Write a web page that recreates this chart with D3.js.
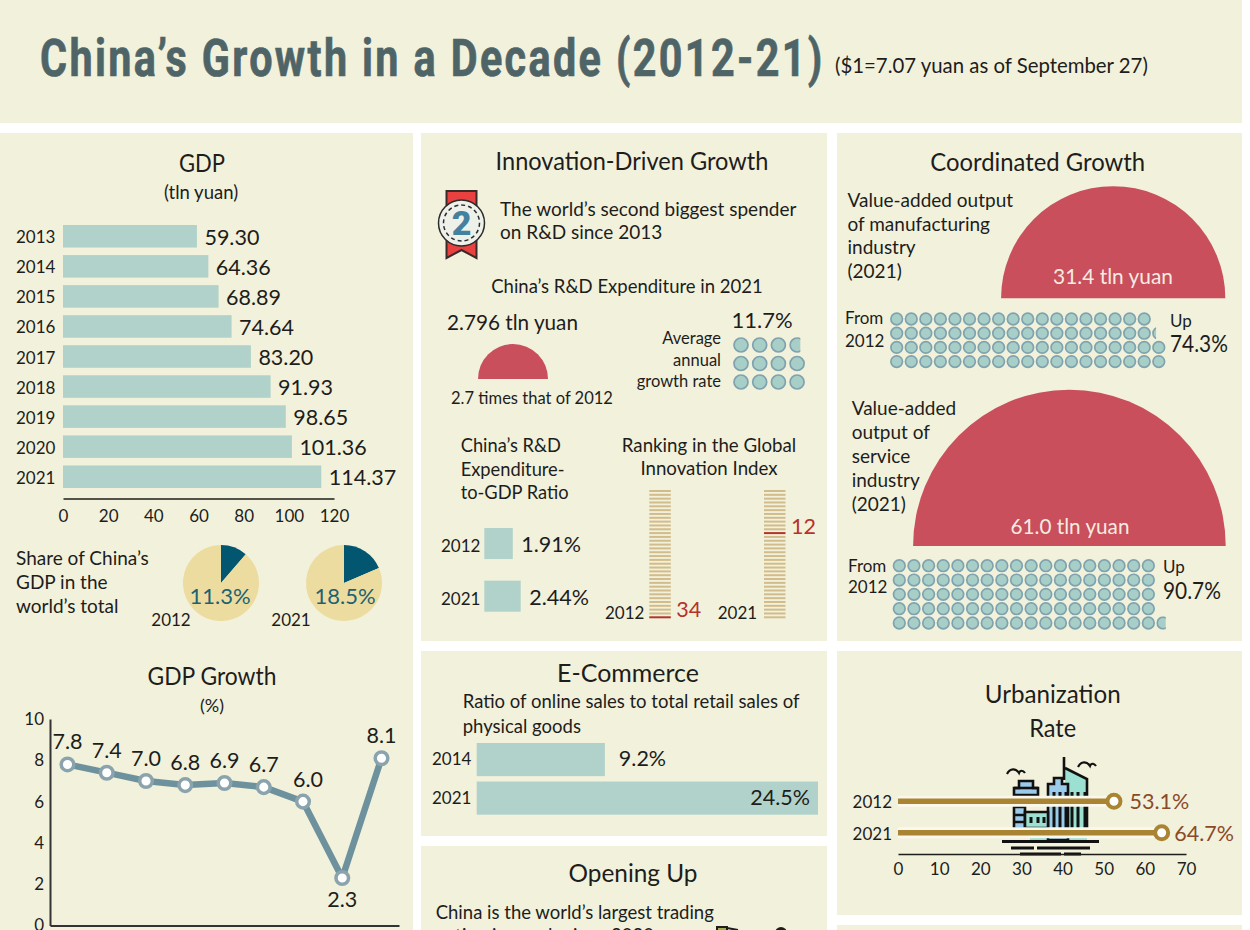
<!DOCTYPE html>
<html>
<head>
<meta charset="utf-8">
<script src="https://cdn.jsdelivr.net/npm/d3@7"></script>
<style>
  html, body { margin: 0; padding: 0; background: #fff; overflow: hidden; }
  svg { display: block; }
  text { font-family: Lato, "Noto Sans", sans-serif; fill: #1d1d1b; }
  .axis text { font-family: Lato, "Noto Sans", sans-serif; fill: #1d1d1b; }
</style>
</head>
<body>
<svg></svg>
<script>
// GDP
var gdpYears = ["2013","2014","2015","2016","2017","2018","2019","2020","2021"];
var gdpValues = [59.30,64.36,68.89,74.64,83.20,91.93,98.65,101.36,114.37];
var gdpTicks = [0,20,40,60,80,100,120];
// world share
var shareYears = ["2012","2021"];
var shareValues = [11.3,18.5];
// GDP growth
var growthYears = ["2013","2014","2015","2016","2017","2018","2019","2020","2021"];
var growthValues = [7.8,7.4,7.0,6.8,6.9,6.7,6.0,2.3,8.1];
var growthTicks = [0,2,4,6,8,10];
// R&D
var rdExpenditure = 2.796;
var rdGrowthRows = [3.7,4,4];
var ratioYears = ["2012","2021"];
var ratioValues = [1.91,2.44];
var rankYears = ["2012","2021"];
var rankValues = [34,12];
var rankSlots = d3.range(1,35);
// e-commerce
var ecomYears = ["2014","2021"];
var ecomValues = [9.2,24.5];
// coordinated growth
var manufOutput = 31.4, serviceOutput = 61.0;
var manufRows = [18,18.3,19,19];   // 74.3 circles
var serviceRows = [18,18,18,18,18.7];   // 90.7 circles
// urbanization
var urbanYears = ["2012","2021"];
var urbanValues = [53.1,64.7];
var urbanTicks = [0,10,20,30,40,50,60,70];

var cream = "#f2f1dc", barColor = "#b1d2ca", redColor = "#c84f5b";

var svg = d3.select("svg").attr("width",1250).attr("height",930);

// panels
var panels = [
  [0,0,1242,123],[0,133,413,797],
  [421,133,406,508],[421,651,406,185],[421,846,406,84],
  [837,133,405,508],[837,651,405,264],[837,925,405,5]
];
svg.selectAll("rect.panel").data(panels).enter().append("rect")
  .attr("class","panel")
  .attr("x",function(d){return d[0]}).attr("y",function(d){return d[1]})
  .attr("width",function(d){return d[2]}).attr("height",function(d){return d[3]})
  .attr("fill",cream);

// text helper, w squeezes the text to the width measured on the reference
function label(str,x,y,size,opts){
  opts = opts || {};
  var t = svg.append("text").text(str).attr("x",x).attr("y",y)
    .attr("font-size",size)
    .attr("text-anchor",opts.anchor || "start");
  if(opts.color) t.style("fill",opts.color);
  if(opts.font) t.style("font-family",opts.font);
  if(opts.weight) t.style("font-weight",opts.weight);
  if(opts.spacing) t.style("letter-spacing",opts.spacing+"px");
  if(opts.w){
    var natural = t.node().getComputedTextLength();
    t.attr("x",0).attr("y",0)
      .attr("transform","translate("+x+","+y+") scale("+(opts.w/natural)+",1)");
  }
  return t;
}
function lines(arr,x,ys,size,opts){
  arr.forEach(function(s,i){ label(s,x,ys[i],size,opts); });
}
function heading(str,x,y,w){
  label(str,x,y,25.5,{anchor:"middle",w:w});
}

// title
label("China’s Growth in a Decade (2012-21)",40,76,52,
  {color:"#4f6467",w:785,font:"Roboto",weight:700,spacing:3})
  .style("stroke","#4f6467").style("stroke-width",0.7);
label("($1=7.07 yuan as of September 27)",835,73,20.5,{w:313});

// ---- GDP bars
heading("GDP",202,172,46);
label("(tln yuan)",201,199,18.5,{anchor:"middle"});
var gx = d3.scaleLinear().domain([0,120]).range([63,334]);
var gy = d3.scaleBand().domain(gdpYears).range([225,488]).paddingInner(0.25);
svg.selectAll("rect.gdp").data(gdpValues).enter().append("rect")
  .attr("class","gdp")
  .attr("x",gx(0))
  .attr("y",function(d,i){return gy(gdpYears[i])})
  .attr("width",function(d){return gx(d)-gx(0)})
  .attr("height",gy.bandwidth())
  .attr("fill",barColor);
gdpValues.forEach(function(d,i){
  label(d.toFixed(2),gx(d)+7.5,gy(gdpYears[i])+gy.bandwidth()/2+8.5,21.5);
  label(gdpYears[i],16,gy(gdpYears[i])+gy.bandwidth()/2+7,17);
});
var gAxis = svg.append("g").attr("class","axis").attr("transform","translate(0,498.5)")
  .call(d3.axisBottom(gx).tickValues(gdpTicks).tickSize(0).tickPadding(11));
gAxis.select(".domain").attr("stroke","#1d1d1b").attr("stroke-width",1.6);
gAxis.selectAll("text").attr("font-size",17);

// ---- share pies
lines(["Share of China’s","GDP in the","world’s total"],16,[564.5,588.5,612.5],19);
var pie = d3.pie().sort(null);
var pieArc = d3.arc().innerRadius(0).outerRadius(38);
var pieX = d3.scalePoint().domain(shareYears).range([221,344]);
shareValues.forEach(function(v,i){
  var g = svg.append("g").attr("transform","translate("+pieX(shareYears[i])+",583)");
  g.selectAll("path").data(pie([v,100-v])).enter().append("path")
    .attr("d",pieArc)
    .attr("fill",function(d,j){return j==0 ? "#02566f" : "#eddc9f"});
  label(v+"%",pieX(shareYears[i])-1+2*i,604,22,{anchor:"middle",color:"#1d6273"});
  label(shareYears[i],pieX(shareYears[i])-50-3*i,626,17,{anchor:"middle"});
});

// ---- GDP growth line
heading("GDP Growth",212,685,129);
label("(%)",212,712,18,{anchor:"middle"});
var lx = d3.scalePoint().domain(growthYears).range([50,399]).padding(0.446);
var ly = d3.scaleLinear().domain([0,10]).range([925.5,719]);
var lyAxis = svg.append("g").attr("class","axis").attr("transform","translate(50,0)")
  .call(d3.axisLeft(ly).tickValues(growthTicks).tickSize(0).tickPadding(6));
lyAxis.select(".domain").attr("stroke","#333").attr("stroke-width",2);
lyAxis.selectAll("text").attr("font-size",17);
var lxAxis = svg.append("g").attr("class","axis").attr("transform","translate(0,925.5)")
  .call(d3.axisBottom(lx).tickSize(0).tickFormat(""));
lxAxis.select(".domain").attr("stroke","#333").attr("stroke-width",2);
var growthLine = d3.line()
  .x(function(d,i){return lx(growthYears[i])})
  .y(function(d){return ly(d)});
svg.append("path").datum(growthValues)
  .attr("fill","none").attr("stroke","#6e929d").attr("stroke-width",6.5)
  .attr("stroke-linejoin","round").attr("d",growthLine);
svg.selectAll("circle.gp").data(growthValues).enter().append("circle")
  .attr("class","gp")
  .attr("cx",function(d,i){return lx(growthYears[i])})
  .attr("cy",function(d){return ly(d)})
  .attr("r",6.3).attr("fill","#fff").attr("stroke","#8aa3ac").attr("stroke-width",3.5);
growthValues.forEach(function(d,i){
  var yr = growthYears[i];
  var below = d < 3;
  label(d.toFixed(1),lx(yr)+(yr=="2019"?5:0),ly(d)+(below?29:-15),21.5,{anchor:"middle"});
});

// ---- innovation panel
heading("Innovation-Driven Growth",632,170,273);
// medal
var medal = svg.append("g").attr("transform","translate(461.5,223)");
medal.append("path").attr("d","M-15,-32H15V35L0,27L-15,35Z")
  .attr("fill","#e8413f").attr("stroke","#3a2a2a").attr("stroke-width",2);
medal.append("circle").attr("r",23).attr("fill","#eef0ea").attr("stroke","#2c2c2c").attr("stroke-width",1.5);
medal.append("circle").attr("r",18).attr("fill","none").attr("stroke","#2c2c2c")
  .attr("stroke-width",1.5).attr("stroke-dasharray","4 3");
label("2",461.5,235,34,{anchor:"middle",color:"#44819f",font:"Roboto",weight:900});

lines(["The world’s second biggest spender","on R&D since 2013"],500,[216,239],19);
label("China’s R&D Expenditure in 2021",627,293,18.5,{anchor:"middle"});
label(rdExpenditure+" tln yuan",447,330,22,{w:131});
label("2.7 times that of 2012",532,404,17,{anchor:"middle",w:162});
label("11.7%",762,328,22,{anchor:"middle"});
lines(["Average","annual","growth rate"],721,[344,366,387],16.5,{anchor:"end"});

// half circles, area follows the value
var semiR = d3.scaleSqrt().domain([0,serviceOutput]).range([0,156.3]);
var rdR = d3.scaleSqrt().domain([0,rdExpenditure]).range([0,35]);
function semi(cx,cy,r){
  svg.append("path").attr("transform","translate("+cx+","+cy+")")
    .attr("d",d3.arc().innerRadius(0).outerRadius(r).startAngle(-Math.PI/2).endAngle(Math.PI/2)())
    .attr("fill",redColor);
}
semi(513,379,rdR(rdExpenditure));

// circle grids, a row value like 18.3 means 18 circles and a third of one
var clipCount = 0;
function waffle(rows,x0,stepX,y0,stepY,r){
  var xs = d3.scaleLinear().domain([0,1]).range([x0,x0+stepX]);
  var ys = d3.scaleLinear().domain([0,1]).range([y0,y0+stepY]);
  rows.forEach(function(n,row){
    d3.range(Math.ceil(n)).forEach(function(col){
      var frac = Math.min(1,n-col);
      var c = svg.append("circle").attr("cx",xs(col)).attr("cy",ys(row)).attr("r",r)
        .attr("fill","#a8cec8").attr("stroke","#7fa3ae").attr("stroke-width",1.7);
      if(frac<1){
        clipCount++;
        svg.append("clipPath").attr("id","wc"+clipCount).append("rect")
          .attr("x",xs(col)-r-1).attr("y",ys(row)-r-1)
          .attr("width",(2*r+2)*frac).attr("height",2*r+2);
        c.attr("clip-path","url(#wc"+clipCount+")");
      }
    });
  });
}
waffle(rdGrowthRows,741,18.7,345,18.5,7);

// R&D ratio
lines(["China’s R&D","Expenditure-","to-GDP Ratio"],460.7,[451.5,475.5,498.5],18.3);
var rx = d3.scaleLinear().domain([0,2.44]).range([484.3,520.7]);
var ry = d3.scaleBand().domain(ratioYears).range([528,611.7]).paddingInner(0.41);
svg.selectAll("rect.ratio").data(ratioValues).enter().append("rect")
  .attr("class","ratio")
  .attr("x",rx(0)).attr("y",function(d,i){return ry(ratioYears[i])})
  .attr("width",function(d){return rx(d)-rx(0)}).attr("height",ry.bandwidth())
  .attr("fill",barColor);
ratioValues.forEach(function(d,i){
  var base = ry(ratioYears[i])+24;
  label(ratioYears[i],441,base,17);
  label(d.toFixed(2)+"%",rx(d)+8.5,base,21.5);
});

// ranking
lines(["Ranking in the Global","Innovation Index"],709,[451.5,474.5],18.7,{anchor:"middle"});
var rankY = d3.scaleLinear().domain([1,34]).range([491,617.3]);
var rankX = d3.scalePoint().domain(rankYears).range([649.3,764]);
rankYears.forEach(function(yr,i){
  var x = rankX(yr);
  svg.selectAll("line.r"+yr).data(rankSlots).enter().append("line")
    .attr("class","r"+yr)
    .attr("x1",x).attr("x2",x+21.5)
    .attr("y1",function(d){return rankY(d)}).attr("y2",function(d){return rankY(d)})
    .attr("stroke",function(d){return d==rankValues[i] ? "#b5332a" : "#d2bc8b"})
    .attr("stroke-width",2);
  label(rankValues[i],x+27,rankY(rankValues[i])+(i==0?0:1),21.5,{color:"#b5332a"});
  label(yr,x-44.3+(i==0?0:-2),619,17);
});

// ---- e-commerce
heading("E-Commerce",628,682,142);
lines(["Ratio of online sales to total retail sales of","physical goods"],462.7,[708,732.7],18.5);
var ex = d3.scaleLinear().domain([0,24.5]).range([476.7,818]);
var ey = d3.scaleBand().domain(ecomYears).range([743,814.7]).paddingInner(0.14);
svg.selectAll("rect.ecom").data(ecomValues).enter().append("rect")
  .attr("class","ecom")
  .attr("x",ex(0)).attr("y",function(d,i){return ey(ecomYears[i])})
  .attr("width",function(d){return ex(d)-ex(0)}).attr("height",ey.bandwidth())
  .attr("fill",barColor);
ecomValues.forEach(function(d,i){
  var base = ey(ecomYears[i])+23;
  label(ecomYears[i],432,base-1,17);
  if(i==0) label(d+"%",ex(d)+14,base,21.5);
  else label(d+"%",ex(d)-8,base,21.5,{anchor:"end"});
});

// ---- opening up
heading("Opening Up",633,881.7,129);
lines(["China is the world’s largest trading","nation in goods since 2020"],435.7,[919,942],18.5);
svg.append("rect").attr("x",717).attr("y",927).attr("width",10).attr("height",6)
  .attr("fill","#9db04a").attr("stroke","#1d1d1b").attr("stroke-width",2);
svg.append("path").attr("d","M727,928L738,930").attr("stroke","#1d1d1b").attr("stroke-width",2);
svg.append("circle").attr("cx",781).attr("cy",933).attr("r",6).attr("fill","#1d1d1b");

// ---- coordinated growth
heading("Coordinated Growth",1037.7,171,215);
lines(["Value-added output","of manufacturing","industry","(2021)"],847.5,[207,231,254,278],19);
semi(1113.2,298.3,semiR(manufOutput));
label(manufOutput+" tln yuan",1113,284,21,{anchor:"middle",color:"#f6ebe2",w:120});
lines(["From","2012"],845,[324,347],17);
waffle(manufRows,896.7,14.56,319,14.2,5.8);
label("Up",1170,327,17);
label("74.3%",1170,352,22.5,{w:58});

lines(["Value-added","output of","service","industry","(2021)"],851.7,[415,439,463,487,511],19);
semi(1069.4,546,semiR(serviceOutput));
label(serviceOutput.toFixed(1)+" tln yuan",1070,534,21,{anchor:"middle",color:"#f6ebe2",w:119});
lines(["From","2012"],848,[572,593],17);
waffle(serviceRows,899.3,14.65,565.7,14.33,5.8);
label("Up",1163,573,17);
label("90.7%",1163,599,22.5,{w:58});

// ---- urbanization
heading("Urbanization",1052.7,703,136);
heading("Rate",1052.7,736.7,47);

// city icon behind the lines
var city = svg.append("g").attr("transform","translate(990,750)")
  .attr("fill","none").attr("stroke","#111").attr("stroke-width",2.6);
city.append("path").attr("d","M75,18L97,29V90H40V76H75Z").attr("fill","#9be0d0").attr("stroke","none");
city.append("path").attr("d","M75,18L97,29V78");
city.append("path").attr("d","M74,7V30");
city.append("path").attr("d","M58,90V34H64V28H72V34H78V90Z").attr("fill","#9ccbea");
city.append("path").attr("d","M64,42V78M70,42V78M76,42V78M82,42V78M88,42V78M95,42V78").attr("stroke-width",3);
city.append("path").attr("d","M24,45V38H29V31H43V38H48V45Z").attr("fill","#9ccbea");
city.append("path").attr("d","M24,38H48");
city.append("path").attr("d","M24,57V79H35V57Z").attr("fill","#9ccbea");
city.append("path").attr("d","M35,78V62H58V78Z").attr("fill","#9be0d0");
city.append("path").attr("d","M24,65H35M24,72H35").attr("stroke-width",2.4);
city.append("path").attr("d","M41,67V73M48,67V73M54,67V73").attr("stroke-width",3);
city.append("path").attr("d","M12,91.5H109").attr("stroke-width",2.8);
city.append("path").attr("d","M21,98H44M47,98H100M30,104H71M74,104H91").attr("stroke-width",2.8);
city.append("path").attr("d","M17,24C20,18 26,18 29,23C30,20 33,20 35,23").attr("stroke-width",2.2);
city.append("path").attr("d","M88,17C91,11 97,11 100,16C101,13 104,13 106,16").attr("stroke-width",2.2);

var ux = d3.scaleLinear().domain([0,70]).range([898,1186]);
var uy = d3.scalePoint().domain(urbanYears).range([801.3,832.7]);
var uAxis = svg.append("g").attr("class","axis").attr("transform","translate(0,854)")
  .call(d3.axisBottom(ux).tickValues(urbanTicks).tickSize(0).tickPadding(9));
uAxis.select(".domain").attr("stroke","#1d1d1b").attr("stroke-width",1.4);
uAxis.selectAll("text").attr("font-size",17);
urbanValues.forEach(function(d,i){
  var y = uy(urbanYears[i]);
  svg.append("line").attr("x1",ux(0)).attr("x2",ux(d)).attr("y1",y).attr("y2",y)
    .attr("stroke","#faf8ec").attr("stroke-width",11);
  svg.append("line").attr("x1",ux(0)).attr("x2",ux(d)).attr("y1",y).attr("y2",y)
    .attr("stroke","#a98433").attr("stroke-width",5.5);
  svg.append("circle").attr("cx",ux(d)-2.5).attr("cy",y).attr("r",6.5)
    .attr("fill","#fff").attr("stroke","#a98433").attr("stroke-width",4);
  label(urbanYears[i],892,y+7,17,{anchor:"end"});
  label(d+"%",ux(d)+13-3*i,y+8,21.5,{color:"#8a4a28"});
});
</script>
</body>
</html>
